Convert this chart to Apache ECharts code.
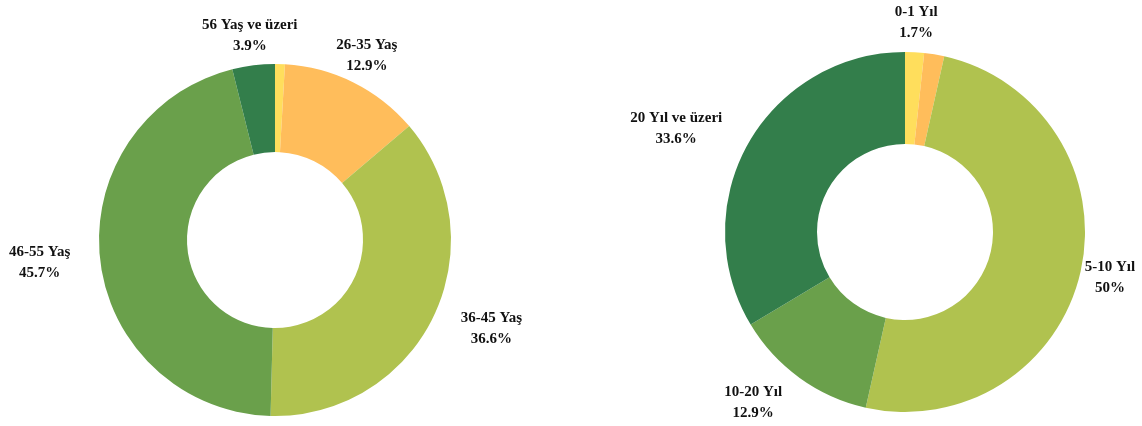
<!DOCTYPE html>
<html>
<head>
<meta charset="utf-8">
<script src="https://cdn.jsdelivr.net/npm/echarts@6/dist/echarts.min.js"></script>
<style>
html,body{margin:0;padding:0;background:#fff;}
#c{width:1142px;height:426px;}
</style>
</head>
<body>
<div id="c"></div>
<script>
const ageCategories = ['18-25 Yaş', '26-35 Yaş', '36-45 Yaş', '46-55 Yaş', '56 Yaş ve üzeri'];
const ageValues = [0.9, 12.9, 36.6, 45.7, 3.9];
const ageShowLabel = [false, true, true, true, true];

const expCategories = ['0-1 Yıl', '1-5 Yıl', '5-10 Yıl', '10-20 Yıl', '20 Yıl ve üzeri'];
const expValues = [1.7, 1.8, 50, 12.9, 33.6];
const expShowLabel = [true, false, true, true, true];

const colors = ['#FFDE5C', '#FFBD5B', '#B0C24F', '#6AA04B', '#337E4B'];
// style: which side of its anchor point each label box sits on
const labelSides = [
  ['center', 'center', 'left', 'right', 'center'],
  ['center', 'center', 'center', 'right', 'right']
];

function build(cats, vals, show) {
  return cats.map((c, i) => ({
    name: c,
    value: vals[i],
    itemStyle: { color: colors[i] },
    label: { show: show[i] }
  }));
}

const labelStyle = {
  position: 'outside',
  formatter: p => p.name + '\n' + p.value + '%',
  fontFamily: 'Liberation Serif',
  fontWeight: 'bold',
  fontSize: 15,
  lineHeight: 21,
  color: '#111',
  overflow: 'none'
};

function layout(params) {
  const pts = params.labelLinePoints;
  if (!pts) return {};
  const a = pts[1];
  const w = params.labelRect.width;
  const side = labelSides[params.seriesIndex][params.dataIndex];
  const shift = side === 'left' ? w / 2 : side === 'right' ? -w / 2 : 0;
  return {
    x: a[0] + shift,
    y: a[1],
    align: 'center',
    verticalAlign: 'middle'
  };
}

const lineCfg = { show: true, length: 30, length2: 0, lineStyle: { opacity: 0, width: 0 } };

const chart = echarts.init(document.getElementById('c'), null, { renderer: 'canvas' });
chart.setOption({
  animation: false,
  backgroundColor: '#fff',
  series: [
    {
      type: 'pie',
      center: [275, 240],
      radius: [88, 176],
      startAngle: 90,
      clockwise: true,
      avoidLabelOverlap: false,
      label: labelStyle,
      labelLine: lineCfg,
      labelLayout: layout,
      data: build(ageCategories, ageValues, ageShowLabel)
    },
    {
      type: 'pie',
      center: [905, 232],
      radius: [88, 180],
      startAngle: 90,
      clockwise: true,
      avoidLabelOverlap: false,
      label: labelStyle,
      labelLine: lineCfg,
      labelLayout: layout,
      data: build(expCategories, expValues, expShowLabel)
    }
  ]
});
</script>
</body>
</html>
